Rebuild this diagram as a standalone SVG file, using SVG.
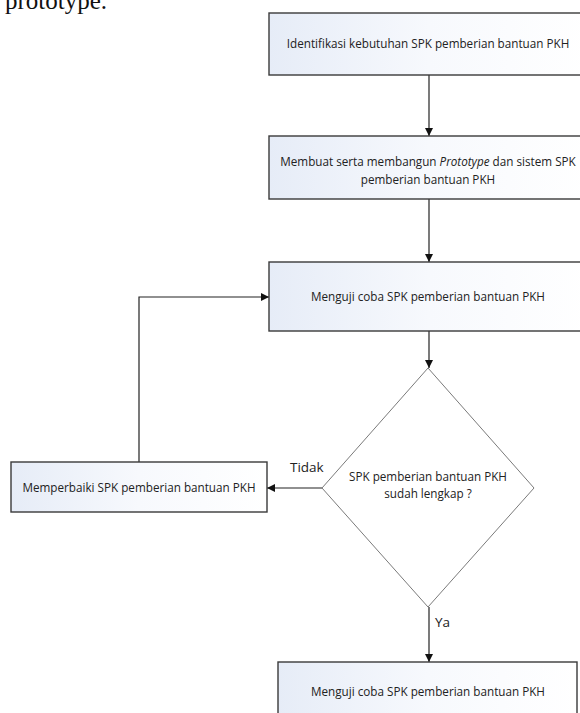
<svg xmlns="http://www.w3.org/2000/svg" width="580" height="713" viewBox="0 0 580 713">
<style>
.box{fill:url(#g);stroke:#3a3a3a;stroke-width:1.4}
.dia{fill:#fff;stroke:#7a7a7a;stroke-width:1}
.t{font-family:"Open Sans","Liberation Sans",sans-serif;font-size:11.7px;fill:#222;text-anchor:middle}
.lbl{font-family:"Open Sans","Liberation Sans",sans-serif;font-size:13.5px;fill:#222}
.c{fill:none;stroke:#222;stroke-width:1.2}
</style>
<defs>
<linearGradient id="g" x1="0" y1="0" x2="1" y2="0">
<stop offset="0" stop-color="#e6ecf7"/>
<stop offset="0.5" stop-color="#f7f9fd"/>
<stop offset="1" stop-color="#ffffff"/>
</linearGradient>
<marker id="ah" viewBox="0 0 10 10" refX="10" refY="5" markerWidth="8" markerHeight="8" markerUnits="userSpaceOnUse" orient="auto">
<path d="M0,0 L10,5 L0,10 z" fill="#111"/>
</marker>
</defs>
<rect width="580" height="713" fill="#fff"/>
<text x="5" y="9" font-family="Liberation Serif, serif" font-size="25" fill="#111">prototype.</text>

<g id="connectors">
<line class="c" x1="429" y1="75" x2="429" y2="136" marker-end="url(#ah)"/>
<line class="c" x1="429" y1="199" x2="429" y2="262" marker-end="url(#ah)"/>
<line class="c" x1="429" y1="331" x2="429" y2="368" marker-end="url(#ah)"/>
<line class="c" x1="322" y1="488" x2="267" y2="488" marker-end="url(#ah)"/>
<polyline class="c" points="139,462 139,297 269,297" marker-end="url(#ah)"/>
<line class="c" x1="429" y1="607" x2="429" y2="662" marker-end="url(#ah)"/>
<text class="lbl" x="290" y="472">Tidak</text>
<text class="lbl" x="435" y="627">Ya</text>
</g>

<g id="n1">
<rect class="box" x="269" y="13" width="320" height="62"/>
<text class="t" x="428" y="48">Identifikasi kebutuhan SPK pemberian bantuan PKH</text>
</g>
<g id="n2">
<rect class="box" x="269" y="136" width="320" height="63"/>
<text class="t" x="428" y="166">Membuat serta membangun <tspan font-style="italic">Prototype</tspan> dan sistem SPK</text>
<text class="t" x="428" y="184">pemberian bantuan PKH</text>
</g>
<g id="n3">
<rect class="box" x="269" y="262" width="320" height="69"/>
<text class="t" x="428" y="301">Menguji coba SPK pemberian bantuan PKH</text>
</g>
<g id="n4">
<polygon class="dia" points="428,368 534,488 428,607 322,488"/>
<text class="t" x="428" y="481">SPK pemberian bantuan PKH</text>
<text class="t" x="428" y="498">sudah lengkap ?</text>
</g>
<g id="n5">
<rect class="box" x="11" y="462" width="256" height="50"/>
<text class="t" x="139" y="492">Memperbaiki SPK pemberian bantuan PKH</text>
</g>
<g id="n6">
<rect class="box" x="278" y="662" width="299" height="70"/>
<text class="t" x="428" y="696">Menguji coba SPK pemberian bantuan PKH</text>
</g>
</svg>
